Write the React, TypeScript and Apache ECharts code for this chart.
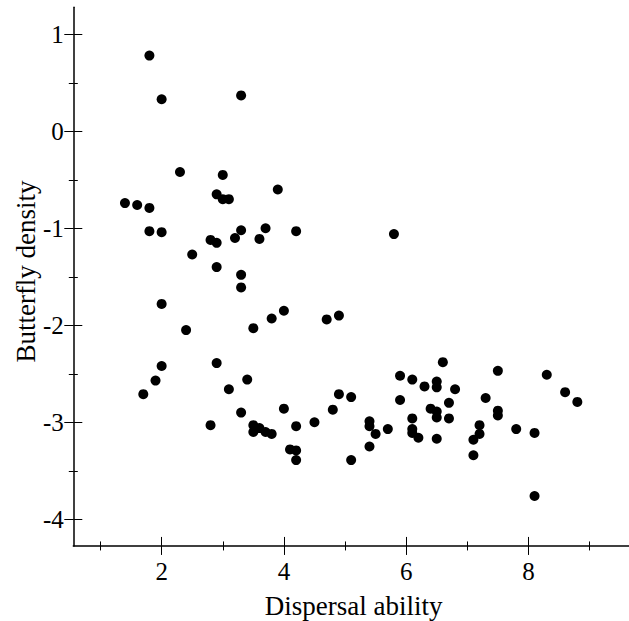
import React, { useEffect, useRef } from "react";
import * as echarts from "echarts";

const dispersal: number[] = [
  1.8, 2.0, 3.3, 2.3, 3.0, 3.9, 1.4, 1.6, 1.8, 2.9,
  3.0, 3.1, 1.8, 2.0, 3.3, 3.7, 4.2, 2.8, 2.9, 3.2,
  3.6, 2.5, 2.9, 3.3, 3.3, 2.0, 4.0, 3.8, 5.8, 4.7,
  4.9, 2.4, 3.5, 2.9, 2.0, 1.9, 1.7, 3.4, 3.1, 3.3,
  2.8, 4.0, 4.2, 4.5, 3.5, 3.5, 3.6, 3.7, 3.8, 4.1,
  4.2, 4.2, 6.6, 5.9, 6.1, 6.3, 6.5, 6.5, 6.8, 7.5,
  8.3, 8.6, 8.8, 4.9, 5.1, 4.8, 5.9, 6.7, 7.3, 6.4,
  6.5, 6.5, 6.7, 6.1, 7.5, 7.5, 5.4, 5.4, 5.5, 5.7,
  6.1, 6.1, 6.2, 6.5, 7.1, 7.2, 7.2, 7.1, 7.8, 8.1,
  8.1, 5.4, 5.1,
];

const density: number[] = [
  0.78, 0.33, 0.37, -0.42, -0.45, -0.6, -0.74, -0.76, -0.79, -0.65,
  -0.7, -0.7, -1.03, -1.04, -1.02, -1.0, -1.03, -1.12, -1.15, -1.1,
  -1.11, -1.27, -1.4, -1.48, -1.61, -1.78, -1.85, -1.93, -1.06, -1.94,
  -1.9, -2.05, -2.03, -2.39, -2.42, -2.57, -2.71, -2.56, -2.66, -2.9,
  -3.03, -2.86, -3.04, -3.0, -3.03, -3.1, -3.06, -3.1, -3.12, -3.28,
  -3.29, -3.39, -2.38, -2.52, -2.56, -2.63, -2.58, -2.64, -2.66, -2.47,
  -2.51, -2.69, -2.79, -2.71, -2.74, -2.87, -2.77, -2.8, -2.75, -2.86,
  -2.89, -2.95, -2.96, -2.96, -2.88, -2.93, -2.99, -3.04, -3.12, -3.07,
  -3.07, -3.11, -3.16, -3.17, -3.18, -3.03, -3.12, -3.34, -3.07, -3.11,
  -3.76, -3.25, -3.39,
];

const xMajorTicks: number[] = [2, 4, 6, 8];
const xMinorTicks: number[] = [1, 3, 5, 7, 9];
const yMajorTicks: number[] = [-4, -3, -2, -1, 0, 1];
const yMinorTicks: number[] = [-3.5, -2.5, -1.5, -0.5, 0.5];

const xTitle = "Dispersal ability";
const yTitle = "Butterfly density";

const FONT = "'Liberation Serif', serif";
const X_MIN = 0.555;
const X_MAX = 9.645;
const Y_MIN = -4.275;
const Y_MAX = 1.278;

const PX_PER_X = 62.33;
const PX_PER_Y = 97;
const LEFT = 73.3;
const TOP = 7.3;
const WIDTH = (X_MAX - X_MIN) * PX_PER_X;
const HEIGHT = (Y_MAX - Y_MIN) * PX_PER_Y;

export default function App() {
  const ref = useRef<HTMLDivElement>(null);

  useEffect(() => {
    document.body.style.margin = "0";
    if (!ref.current) return;
    const chart = echarts.init(ref.current, null, { renderer: "svg" });

    const hidden = { show: false };
    const baseX = (extra: any) => ({
      type: "value",
      gridIndex: 0,
      position: "bottom",
      min: X_MIN,
      max: X_MAX,
      splitLine: hidden,
      axisLine: { show: false, onZero: false },
      axisLabel: hidden,
      ...extra,
    });
    const baseY = (extra: any) => ({
      type: "value",
      gridIndex: 0,
      position: "left",
      min: Y_MIN,
      max: Y_MAX,
      splitLine: hidden,
      axisLine: { show: false, onZero: false },
      axisLabel: hidden,
      ...extra,
    });
    const tick = (vals: number[], len: number, inside: boolean) => ({
      show: true,
      customValues: vals,
      length: len,
      inside,
      lineStyle: { color: "#000", width: 1 },
    });

    const data = dispersal.map((x, i) => [x, density[i]]);

    chart.setOption({
      animation: false,
      backgroundColor: "#fff",
      grid: { left: LEFT, top: TOP, width: WIDTH, height: HEIGHT },
      xAxis: [
        baseX({
          axisLine: { show: true, onZero: false, lineStyle: { color: "#000", width: 1.5 } },
          axisTick: tick(xMajorTicks, 9, false),
        }),
        baseX({ axisTick: tick(xMajorTicks, 9, true) }),
        baseX({ axisTick: tick(xMinorTicks, 4.5, false) }),
        baseX({ axisTick: tick(xMinorTicks, 4.5, true) }),
      ],
      yAxis: [
        baseY({
          axisLine: { show: true, onZero: false, lineStyle: { color: "#000", width: 1.5 } },
          axisTick: tick(yMajorTicks, 9, false),
        }),
        baseY({ axisTick: tick(yMajorTicks, 9, true) }),
        baseY({ axisTick: tick(yMinorTicks, 4.5, false) }),
        baseY({ axisTick: tick(yMinorTicks, 4.5, true) }),
      ],
      series: [
        {
          type: "scatter",
          xAxisIndex: 0,
          yAxisIndex: 0,
          data,
          symbol: "circle",
          symbolSize: 10,
          itemStyle: { color: "#000", opacity: 1 },
          emphasis: { disabled: true },
        },
      ],
    });

    // Tick labels placed through the axes' own scales
    const xAxisY = chart.convertToPixel({ yAxisIndex: 0 }, Y_MIN) as number;
    const yAxisX = chart.convertToPixel({ xAxisIndex: 0 }, X_MIN) as number;
    const labelFont = `25px ${FONT}`;
    const xLabels = xMajorTicks.map((v) => ({
      type: "text",
      silent: true,
      x: chart.convertToPixel({ xAxisIndex: 0 }, v) as number,
      y: xAxisY + 26,
      style: { text: String(v), font: labelFont, fill: "#000", align: "center", verticalAlign: "middle" },
    }));
    const yLabels = yMajorTicks.map((v) => ({
      type: "text",
      silent: true,
      x: yAxisX - 9.5,
      y: chart.convertToPixel({ yAxisIndex: 0 }, v) as number,
      style: { text: String(v), font: labelFont, fill: "#000", align: "right", verticalAlign: "middle" },
    }));

    chart.setOption({
      graphic: [
        ...xLabels,
        ...yLabels,
        {
          type: "text",
          silent: true,
          x: 353.7,
          y: 606,
          style: { text: xTitle, font: `27px ${FONT}`, fill: "#000", align: "center", verticalAlign: "middle" },
        },
        {
          type: "text",
          silent: true,
          x: 26,
          y: 271.5,
          rotation: Math.PI / 2,
          style: { text: yTitle, font: `27px ${FONT}`, fill: "#000", align: "center", verticalAlign: "middle" },
        },
      ],
    });

    return () => chart.dispose();
  }, []);

  return <div ref={ref} style={{ width: 629, height: 621 }} />;
}
